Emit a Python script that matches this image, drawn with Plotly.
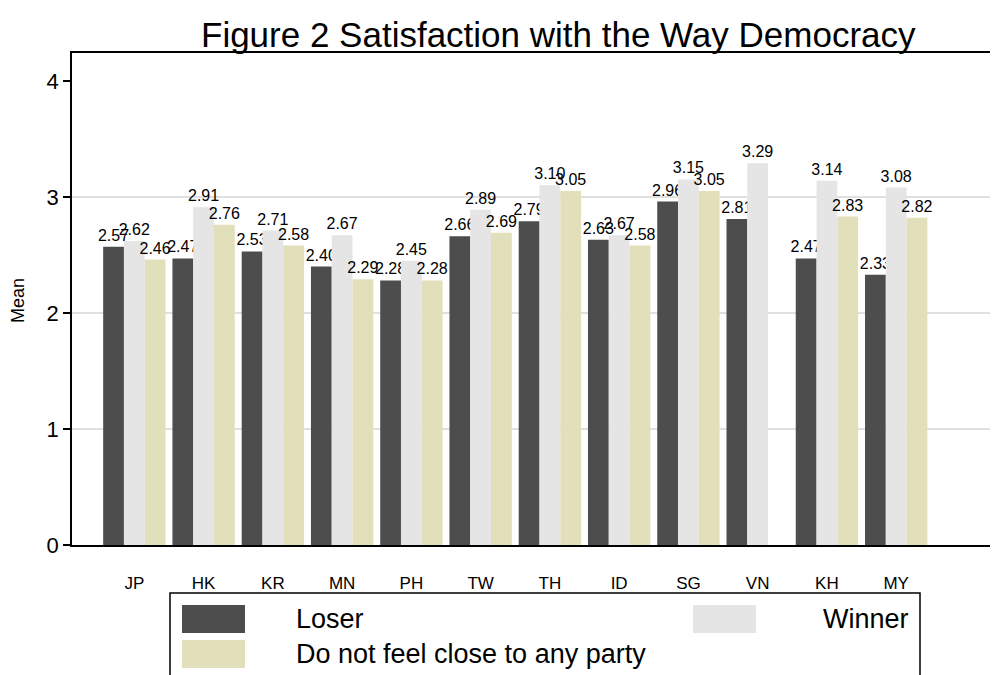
import plotly.graph_objects as go

countries = ["JP", "HK", "KR", "MN", "PH", "TW", "TH", "ID", "SG", "VN", "KH", "MY"]
loser = [2.57, 2.47, 2.53, 2.40, 2.28, 2.66, 2.79, 2.63, 2.96, 2.81, 2.47, 2.33]
winner = [2.62, 2.91, 2.71, 2.67, 2.45, 2.89, 3.10, 2.67, 3.15, 3.29, 3.14, 3.08]
no_party = [2.46, 2.76, 2.58, 2.29, 2.28, 2.69, 3.05, 2.58, 3.05, None, 2.83, 2.82]
series_names = ["Loser", "Winner", "Do not feel close to any party"]
series_colors = ["#4d4d4d", "#e5e5e5", "#e2dfbb"]
y_ticks = [0, 1, 2, 3, 4]
grid_vals = [1, 2, 3]

FONT = "Liberation Sans, Arial, sans-serif"

# page has an 8px body margin; work in page pixels and convert
OFF = 8
W, H = 998 - OFF, 675 - OFF
L, T = 72 - OFF, 53 - OFF
R = 0
B = H - (545 - OFF)
pw, ph = W - L - R, H - T - B


def px(x):
    return (x - OFF - L) / pw


def py(y):
    return (H - B - (y - OFF)) / ph


fig = go.Figure()
for name, vals, col in zip(series_names, [loser, winner, no_party], series_colors):
    fig.add_trace(go.Bar(
        x=countries, y=vals, name=name,
        marker=dict(color=col, line=dict(color=col, width=0)),
        text=[None if v is None else f"{v:.2f}" for v in vals],
        textposition="outside", constraintext="none", cliponaxis=False,
        textfont=dict(size=16, color="black", family=FONT),
        showlegend=False,
    ))

shapes = []
for g in grid_vals:
    shapes.append(dict(type="line", xref="paper", yref="y", x0=0, x1=1, y0=g, y1=g,
                       line=dict(color="#e0e0e0", width=2), layer="below"))

shapes.append(dict(type="rect", xref="paper", yref="paper",
                   x0=px(170), x1=px(920), y0=py(593), y1=py(690),
                   line=dict(color="black", width=1.5), fillcolor="white"))
legend_pos = [(182, 605), (693, 605), (182, 640)]
annotations = []
for (lx, ly), name, col in zip(legend_pos, series_names, series_colors):
    shapes.append(dict(type="rect", xref="paper", yref="paper",
                       x0=px(lx), x1=px(lx + 63), y0=py(ly), y1=py(ly + 28),
                       line=dict(width=0), fillcolor=col))
for (lx, ly), name in zip(legend_pos, series_names):
    if name == "Winner":
        annotations.append(dict(xref="paper", yref="paper", x=px(911), y=py(ly + 14),
                                text=name, showarrow=False, xanchor="right", yanchor="middle",
                                font=dict(size=27, color="black", family=FONT)))
    else:
        annotations.append(dict(xref="paper", yref="paper", x=px(lx + 112), y=py(ly + 14),
                                text=name, showarrow=False, xanchor="left", yanchor="middle",
                                font=dict(size=27, color="black", family=FONT)))

annotations.append(dict(xref="paper", yref="paper", x=px(558), y=py(35),
                        text="Figure 2 Satisfaction with the Way Democracy", showarrow=False,
                        xanchor="center", yanchor="middle",
                        font=dict(size=35, color="black", family=FONT)))

annotations.append(dict(xref="paper", yref="paper", x=px(18), y=py(301),
                        text="Mean", showarrow=False, textangle=-90,
                        xanchor="center", yanchor="middle",
                        font=dict(size=18, color="black", family=FONT)))

fig.update_layout(
    width=W, height=H,
    margin=dict(l=L, r=R, t=T, b=B, pad=0),
    paper_bgcolor="white", plot_bgcolor="white",
    barmode="group", bargap=0.1, bargroupgap=0,
    font=dict(family=FONT, color="black"),
    shapes=shapes, annotations=annotations,
    xaxis=dict(range=[-0.9, 12.47], showgrid=False, showline=True, linecolor="black",
               linewidth=1.5, mirror=True, ticks="", tickfont=dict(size=17),
               ticklabelstandoff=22, zeroline=False),
    yaxis=dict(range=[0, 4.24], tickvals=y_ticks, showgrid=False, showline=True,
               linecolor="black", linewidth=1.5, ticks="outside", ticklen=7,
               tickcolor="black", tickwidth=1.5, tickfont=dict(size=22), zeroline=False),
)

fig.write_html("out.html")
